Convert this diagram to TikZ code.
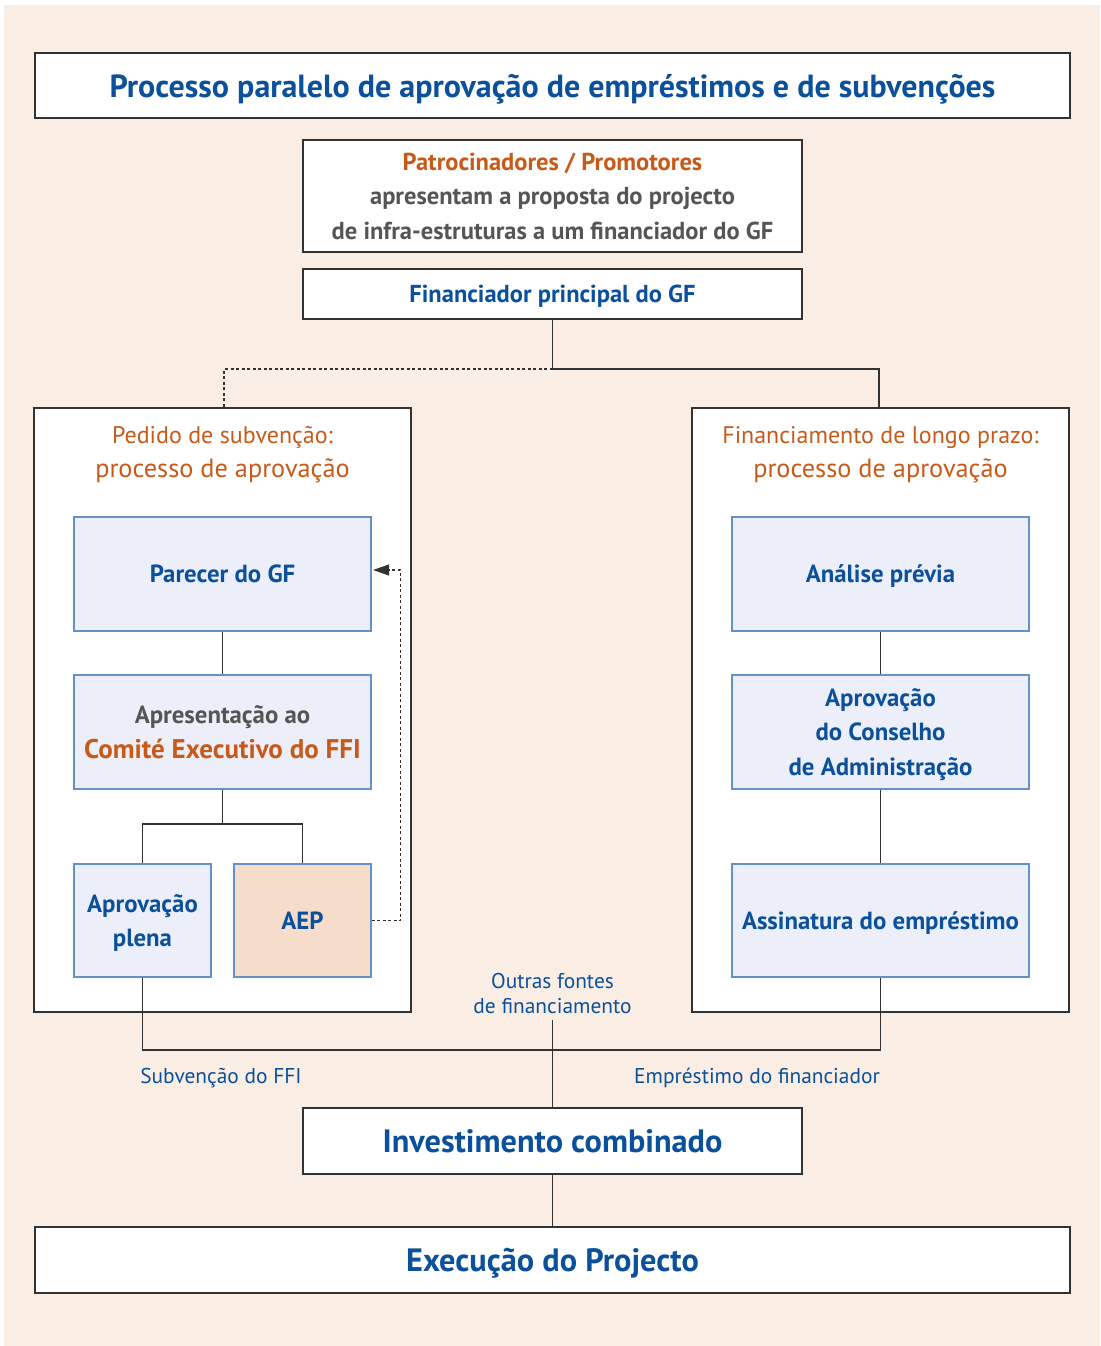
\documentclass[tikz,border=0pt]{standalone}
\usepackage{fontspec}
\setmainfont{PT Sans}
\usetikzlibrary{arrows.meta,positioning}
\definecolor{bgpeach}{RGB}{250,237,228}
\definecolor{ifadblue}{RGB}{11,80,155}
\definecolor{ifadorange}{RGB}{200,90,25}
\definecolor{textgray}{RGB}{85,85,85}
\definecolor{stepfill}{RGB}{236,239,249}
\definecolor{stepline}{RGB}{100,145,200}
\definecolor{aepfill}{RGB}{245,220,203}
\definecolor{linegray}{RGB}{50,50,50}

\begin{document}
\begin{tikzpicture}[x=1pt, y=-1pt,
                      every node/.style = {inner sep=0pt, align=center,
                        text depth=0pt},
                      banner/.style = {
                        draw=linegray, line width=1.2pt, fill=white,
                        minimum width=1035pt, minimum height=65pt,
                        text=ifadblue, font=\bfseries\fontsize{32.3}{36}\selectfont
                      },
                      midbox/.style = {
                        draw=linegray, line width=1.2pt, fill=white,
                        minimum width=499pt, text=ifadblue,
                        font=\bfseries\fontsize{24.5}{34.5}\selectfont
                      },
                      panel/.style = {
                        draw=linegray, line width=1.2pt, fill=white,
                        minimum width=377pt, minimum height=604pt
                      },
                      panelhead/.style = {
                        text=ifadorange, font=\fontsize{24}{34}\selectfont
                      },
                      stepbox/.style = {
                        draw=stepline, line width=1.2pt, fill=stepfill,
                        minimum width=297pt, minimum height=114pt,
                        text=ifadblue, font=\bfseries\fontsize{24.8}{34.5}\selectfont
                      },
                      halfbox/.style = {
                        stepbox, minimum width=137pt, minimum height=113pt
                      },
                      flowlabel/.style = {
                        text=ifadblue, font=\fontsize{21.4}{25}\selectfont
                      },
                      link/.style = {draw=linegray, line width=1.2pt},
                      optional/.style = {
                        draw=linegray, line width=1.1pt,
                        dash pattern=on 3pt off 2.5pt
                      }]
    \fill[bgpeach] (4,5) rectangle (1100,1346);
    \useasboundingbox (0,0) rectangle (1100,1346);

    % top of the chart
    \node[banner, font=\bfseries\fontsize{32}{36}\selectfont] (title) at (552.5,85.5)
      {Processo paralelo de aprovação de empréstimos e de subvenções};
    \node[midbox, minimum height=112pt, text=textgray] (sponsor) at (552.5,196)
      {{\color{ifadorange}Patrocinadores / Promotores}\\
       apresentam a proposta do projecto\\
       de infra-estruturas a um financiador do GF};
    \node[midbox, minimum height=50pt] (lender) at (552.5,294)
      {Financiador principal do GF};

    % the two approval tracks
    \node[panel] (grantpanel) at (222.5,710) {};
    \node[panel] (loanpanel) at (880.5,710) {};
    \node[panelhead] (granthead) at (222.5,451.5)
      {Pedido de subvenção:\\{\fontsize{26.3}{34}\selectfont processo de aprovação}};
    \node[panelhead] (loanhead) at (880.5,451.5)
      {Financiamento de longo prazo:\\{\fontsize{26.3}{34}\selectfont processo de aprovação}};

    \node[stepbox] (opinion) at (222.5,574) {Parecer do GF};
    \node[stepbox] (committee) at (222.5,732)
      {{\color{textgray}Apresentação ao}\\
       {\color{ifadorange}\fontsize{27}{34}\selectfont Comité Executivo do FFI}};
    \node[halfbox] (fullappr) at (142.5,920.5) {Aprovação\\plena};
    \node[halfbox, fill=aepfill] (aep) at (302.5,920.5) {AEP};

    \node[stepbox] (review) at (880.5,574) {Análise prévia};
    \node[stepbox] (board) at (880.5,732)
      {Aprovação\\do Conselho\\de Administração};
    \node[stepbox, minimum height=113pt] (signing) at (880.5,920.5)
      {Assinatura do empréstimo};

    % bottom of the chart
    \node[flowlabel] (others) at (552.5,993.5) {Outras fontes\\de financiamento};
    \node[flowlabel] (grantlbl) at (221,1075.5) {Subvenção do FFI};
    \node[flowlabel] (loanlbl) at (757,1075.5) {Empréstimo do financiador};
    \node[banner, minimum width=499pt, minimum height=66pt] (invest) at (552.5,1141)
      {Investimento combinado};
    \node[banner, minimum height=66pt] (exec) at (552.5,1260)
      {Execução do Projecto};

    % connectors
    \coordinate (split) at (552.5,369);
    \coordinate (fork) at (222.5,824);
    \coordinate (merge) at (552.5,1050);
    \draw[link] (lender) -- (split) -| ([xshift=-1.5pt]loanpanel.north);
    \draw[optional] (split) -| ([xshift=1.5pt]grantpanel.north);
    \draw[link] (opinion) -- (committee);
    \draw[link] (committee) -- (fork) -| (fullappr.north);
    \draw[link] (fork) -| (aep.north);
    \draw[optional, -{Triangle[length=16pt,width=11pt]}, shorten >=1.5pt]
      (aep.east) -- ++(29,0) |- ([yshift=4pt]opinion.east);
    \draw[link] (review) -- (board) -- (signing);
    \draw[link] (fullappr.south) |- (merge) -| (signing.south);
    \draw[link, shorten <=6pt] (others.south) -- (invest.north);
    \draw[link] (invest) -- (exec);
\end{tikzpicture}
\end{document}
